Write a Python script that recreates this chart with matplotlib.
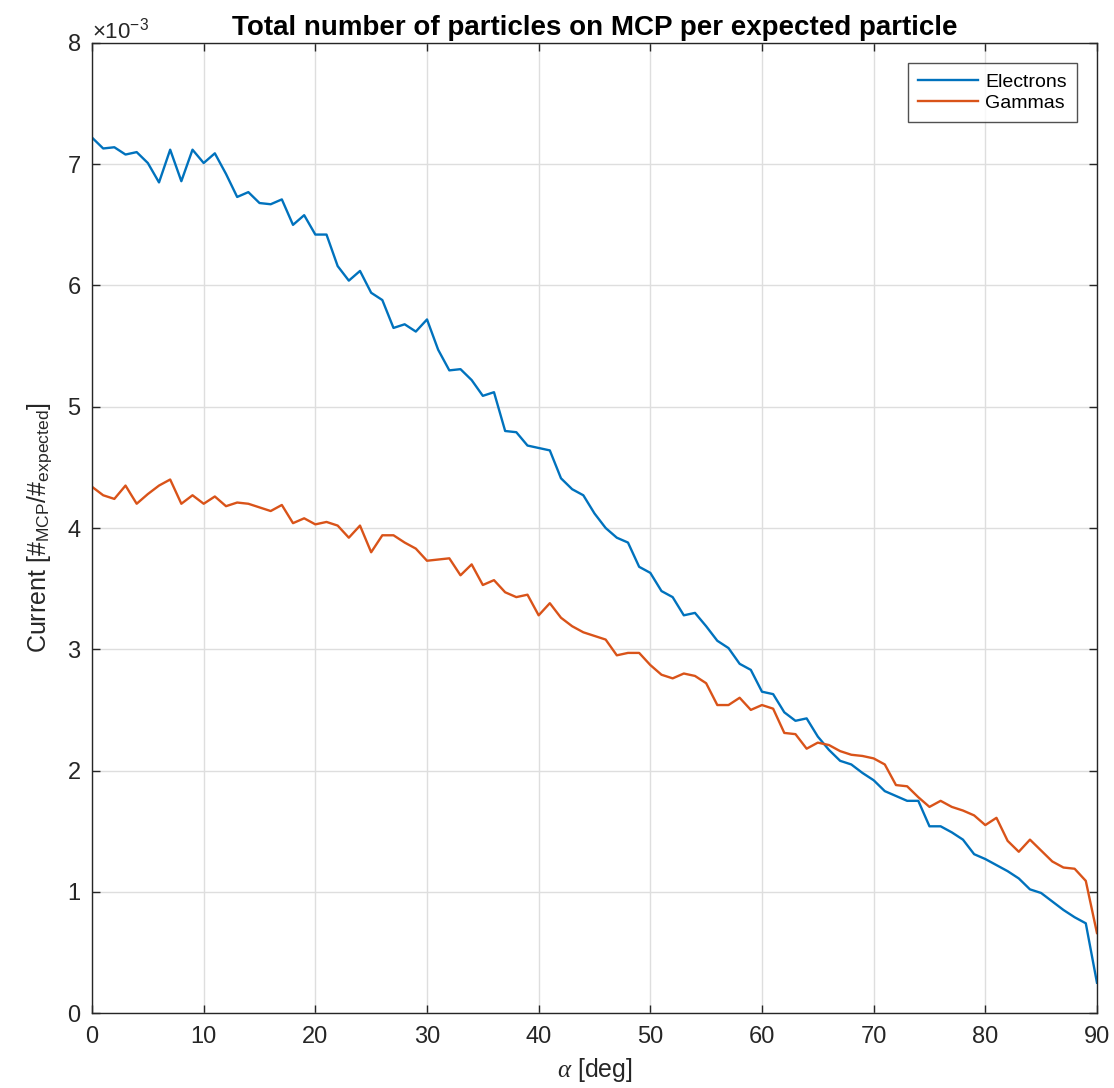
import numpy as np
import matplotlib.pyplot as plt
from matplotlib.ticker import ScalarFormatter

plt.rcParams['font.family'] = ['Liberation Sans', 'DejaVu Sans']
plt.rcParams['mathtext.fontset'] = 'custom'
plt.rcParams['mathtext.rm'] = 'Liberation Sans'
plt.rcParams['mathtext.it'] = 'Liberation Serif:italic'

# angle of incidence, 1 degree steps
alpha = np.arange(0, 91)

# particles on MCP per expected particle, in units of 1e-3
electrons = [7.22, 7.13, 7.14, 7.08, 7.10, 7.01, 6.85, 7.12, 6.86, 7.12,
             7.01, 7.09, 6.92, 6.73, 6.77, 6.68, 6.67, 6.71, 6.50, 6.58,
             6.42, 6.42, 6.16, 6.04, 6.12, 5.94, 5.88, 5.65, 5.68, 5.62,
             5.72, 5.47, 5.30, 5.31, 5.22, 5.09, 5.12, 4.80, 4.79, 4.68,
             4.66, 4.64, 4.41, 4.32, 4.27, 4.12, 4.00, 3.92, 3.88, 3.68,
             3.63, 3.48, 3.43, 3.28, 3.30, 3.19, 3.07, 3.01, 2.88, 2.83,
             2.65, 2.63, 2.48, 2.41, 2.43, 2.28, 2.17, 2.08, 2.05, 1.98,
             1.92, 1.83, 1.79, 1.75, 1.75, 1.54, 1.54, 1.49, 1.43, 1.31,
             1.27, 1.22, 1.17, 1.11, 1.02, 0.99, 0.92, 0.85, 0.79, 0.74,
             0.25]
gammas = [4.34, 4.27, 4.24, 4.35, 4.20, 4.28, 4.35, 4.40, 4.20, 4.27,
          4.20, 4.26, 4.18, 4.21, 4.20, 4.17, 4.14, 4.19, 4.04, 4.08,
          4.03, 4.05, 4.02, 3.92, 4.02, 3.80, 3.94, 3.94, 3.88, 3.83,
          3.73, 3.74, 3.75, 3.61, 3.70, 3.53, 3.57, 3.47, 3.43, 3.45,
          3.28, 3.38, 3.26, 3.19, 3.14, 3.11, 3.08, 2.95, 2.97, 2.97,
          2.87, 2.79, 2.76, 2.80, 2.78, 2.72, 2.54, 2.54, 2.60, 2.50,
          2.54, 2.51, 2.31, 2.30, 2.18, 2.23, 2.21, 2.16, 2.13, 2.12,
          2.10, 2.05, 1.88, 1.87, 1.78, 1.70, 1.75, 1.70, 1.67, 1.63,
          1.55, 1.61, 1.42, 1.33, 1.43, 1.34, 1.25, 1.20, 1.19, 1.09,
          0.66]

series_names = ['Electrons', 'Gammas']
series_colors = ['#0072BD', '#D95319']

fig = plt.figure(figsize=(11.14, 10.88), dpi=100)
ax = fig.add_axes([0.0826, 0.0689, 0.9021, 0.8916])

for vals, name, col in zip([electrons, gammas], series_names, series_colors):
    ax.plot(alpha, np.array(vals) * 1e-3, color=col, lw=1.7, label=name)

ax.set_xlim(0, 90)
ax.set_ylim(0, 8e-3)
ax.set_xticks(np.arange(0, 91, 10))
ax.set_yticks(np.arange(0, 8.5e-3, 1e-3))

fmt = ScalarFormatter(useMathText=True)
fmt.set_powerlimits((-2, 2))
ax.yaxis.set_major_formatter(fmt)
off = ax.yaxis.get_offset_text()
off.set_fontsize(16)
off.set_color('#777777')

ax.grid(True, color='#dedede', lw=1.0)
ax.set_axisbelow(True)
ax.tick_params(direction='in', length=6, width=1, top=True, right=True,
               labelsize=17, colors='#262626')
ax.tick_params(axis='x', pad=9)
ax.tick_params(axis='y', pad=8)
for s in ax.spines.values():
    s.set_color('#262626')
    s.set_linewidth(1.0)

ax.set_xlabel(r'$\alpha$ [deg]', fontsize=18, color='#262626', labelpad=6)
ax.set_ylabel(r'Current [#$_\mathregular{MCP}$/#$_\mathregular{expected}$]',
              fontsize=18, color='#262626', labelpad=8)
ax.set_title('Total number of particles on MCP per expected particle',
             fontsize=20, fontweight='bold', pad=6)

leg = ax.legend(loc='upper right', fontsize=14, frameon=True, fancybox=False,
                handlelength=3.1, handletextpad=0.35, borderaxespad=1.05,
                labelspacing=0.2, borderpad=0.5)
leg.get_frame().set_edgecolor('#262626')
leg.get_frame().set_linewidth(1.0)

fig.savefig('out.png', dpi=100)
